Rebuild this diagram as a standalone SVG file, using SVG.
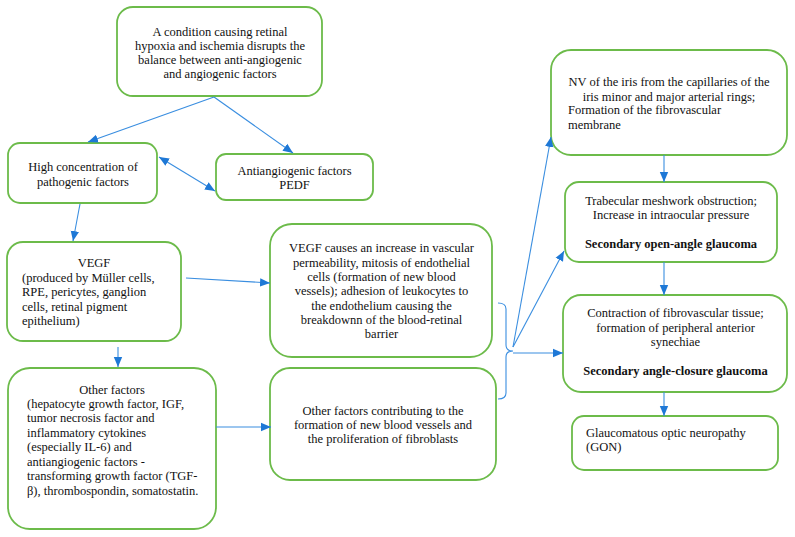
<svg xmlns="http://www.w3.org/2000/svg" width="795" height="537" viewBox="0 0 795 537">
<defs>
<style>
.box{fill:#fff;stroke:#6cbb4a;stroke-width:1.8}
.t{font-family:'Liberation Serif','Times New Roman',serif;font-size:12.5px;fill:#111}
.c{text-anchor:middle}
.b{font-weight:bold}
.ln{fill:none;stroke:#3a8ee0;stroke-width:1.1}
</style>
<marker id="ah" markerUnits="userSpaceOnUse" markerWidth="10" markerHeight="10" viewBox="0 0 10 10" refX="10" refY="5" orient="auto">
<path d="M0,0.8 L10,5 L0,9.2 Z" fill="#1e78d6"/>
</marker>
<marker id="as" markerUnits="userSpaceOnUse" markerWidth="10" markerHeight="10" viewBox="0 0 10 10" refX="10" refY="5" orient="auto-start-reverse">
<path d="M0,0.8 L10,5 L0,9.2 Z" fill="#1e78d6"/>
</marker>
</defs>
<rect width="795" height="537" fill="#fff"/>

<g id="n-condition">
<rect class="box" x="117" y="7" width="205" height="89" rx="16"/>
<text class="t c" x="220" y="36">A condition causing retinal</text>
<text class="t c" x="220" y="50">hypoxia and ischemia disrupts the</text>
<text class="t c" x="220" y="64">balance between anti-angiogenic</text>
<text class="t c" x="220" y="78">and angiogenic factors</text>
</g>

<g id="n-high">
<rect class="box" x="8" y="143" width="149" height="60" rx="12"/>
<text class="t c" x="83" y="171">High concentration of</text>
<text class="t c" x="83" y="186">pathogenic factors</text>
</g>

<g id="n-anti">
<rect class="box" x="216" y="154" width="157" height="46" rx="10"/>
<text class="t c" x="294.5" y="175">Antiangiogenic factors</text>
<text class="t c" x="294.5" y="189">PEDF</text>
</g>

<g id="n-vegf">
<rect class="box" x="7" y="242" width="174" height="99" rx="16"/>
<text class="t c" x="94" y="267">VEGF</text>
<text class="t" x="22" y="282">(produced by Müller cells,</text>
<text class="t" x="22" y="296">RPE, pericytes, ganglion</text>
<text class="t" x="22" y="311">cells, retinal pigment</text>
<text class="t" x="22" y="325">epithelium)</text>
</g>

<g id="n-other">
<rect class="box" x="8" y="368" width="208" height="161" rx="22"/>
<text class="t c" x="112" y="394">Other factors</text>
<text class="t" x="27" y="408">(hepatocyte growth factor, IGF,</text>
<text class="t" x="27" y="422">tumor necrosis factor and</text>
<text class="t" x="27" y="437">inflammatory cytokines</text>
<text class="t" x="27" y="451">(especially IL-6) and</text>
<text class="t" x="27" y="466">antiangiogenic factors -</text>
<text class="t" x="27" y="480">transforming growth factor (TGF-</text>
<text class="t" x="27" y="495">β), thrombospondin, somatostatin.</text>
</g>

<g id="n-vegf-causes">
<rect class="box" x="270" y="224" width="222" height="133" rx="22"/>
<text class="t c" x="381.5" y="252">VEGF causes an increase in vascular</text>
<text class="t c" x="381.5" y="267">permeability, mitosis of endothelial</text>
<text class="t c" x="381.5" y="281">cells (formation of new blood</text>
<text class="t c" x="381.5" y="295">vessels); adhesion of leukocytes to</text>
<text class="t c" x="381.5" y="310">the endothelium causing the</text>
<text class="t c" x="381.5" y="324">breakdownn of the blood-retinal</text>
<text class="t c" x="381.5" y="338">barrier</text>
</g>

<g id="n-other-contrib">
<rect class="box" x="270" y="368" width="226" height="112" rx="20"/>
<text class="t c" x="383" y="415">Other factors contributing to the</text>
<text class="t c" x="383" y="429">formation of new blood vessels and</text>
<text class="t c" x="383" y="443">the proliferation of fibroblasts</text>
</g>

<g id="n-nv">
<rect class="box" x="551" y="50" width="236" height="105" rx="20"/>
<text class="t c" x="669" y="86">NV of the iris from the capillaries of the</text>
<text class="t c" x="669" y="101">iris minor and major arterial rings;</text>
<text class="t" x="568" y="114">Formation of the fibrovascular</text>
<text class="t" x="568" y="129">membrane</text>
</g>

<g id="n-trab">
<rect class="box" x="565" y="182" width="212" height="80" rx="14"/>
<text class="t c" x="671" y="205">Trabecular meshwork obstruction;</text>
<text class="t c" x="671" y="219">Increase in intraocular pressure</text>
<text class="t c b" x="671" y="248">Secondary open-angle glaucoma</text>
</g>

<g id="n-contraction">
<rect class="box" x="563" y="295" width="224" height="97" rx="18"/>
<text class="t c" x="675.5" y="317">Contraction of fibrovascular tissue;</text>
<text class="t c" x="675.5" y="332">formation of peripheral anterior</text>
<text class="t c" x="675.5" y="346">synechiae</text>
<text class="t c b" x="675.5" y="375">Secondary angle-closure glaucoma</text>
</g>

<g id="n-gon">
<rect class="box" x="572" y="416" width="206" height="54" rx="12"/>
<text class="t" x="586" y="437">Glaucomatous optic neuropathy</text>
<text class="t" x="586" y="451">(GON)</text>
</g>

<g id="connectors">
<line class="ln" x1="214" y1="97" x2="88" y2="142" marker-end="url(#ah)"/>
<line class="ln" x1="214" y1="97" x2="293" y2="153" marker-end="url(#ah)"/>
<line class="ln" x1="159" y1="157" x2="215" y2="191" marker-start="url(#as)" marker-end="url(#ah)"/>
<line class="ln" x1="80" y1="204" x2="73" y2="241" marker-end="url(#ah)"/>
<line class="ln" x1="118" y1="347" x2="118" y2="367" marker-end="url(#ah)"/>
<line class="ln" x1="186" y1="278" x2="270" y2="283" marker-end="url(#ah)"/>
<line class="ln" x1="216" y1="427" x2="271" y2="427" marker-end="url(#ah)"/>
<path class="ln" d="M498,303 Q506,303 506,309 L506,345 Q506,351 513,351 Q506,351 506,357 L506,393 Q506,399 498,399"/>
<line class="ln" x1="513" y1="347" x2="551" y2="137" marker-end="url(#ah)"/>
<line class="ln" x1="513" y1="347" x2="564" y2="251" marker-end="url(#ah)"/>
<line class="ln" x1="513" y1="353" x2="563" y2="353" marker-end="url(#ah)"/>
<line class="ln" x1="664" y1="155" x2="664" y2="182" marker-end="url(#ah)"/>
<line class="ln" x1="664" y1="262" x2="664" y2="295" marker-end="url(#ah)"/>
<line class="ln" x1="664" y1="392" x2="664" y2="416" marker-end="url(#ah)"/>
</g>
</svg>
